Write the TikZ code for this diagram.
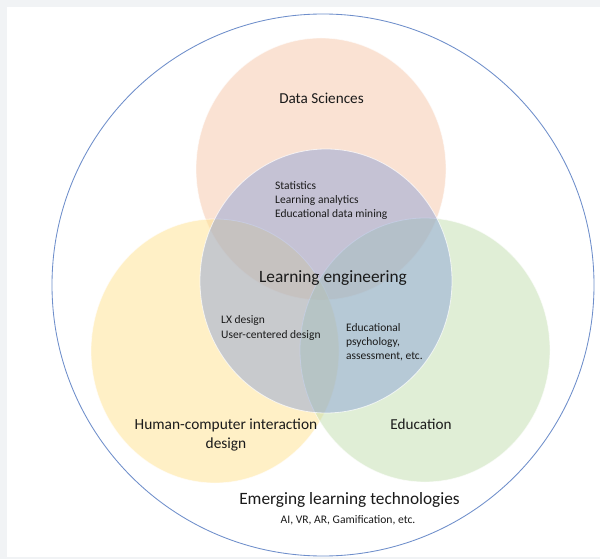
\documentclass[tikz,border=0pt]{standalone}
\usepackage{fontspec}
\setmainfont{Carlito}
\definecolor{bggray}{HTML}{F1F3F5}
\definecolor{ringblue}{HTML}{6E8ECB}
\definecolor{dsorange}{HTML}{F7C6A8}
\definecolor{hciyellow}{HTML}{FFE28F}
\definecolor{edugreen}{HTML}{C2DEAE}
\definecolor{lebue}{HTML}{7D96D7}
\definecolor{txt}{HTML}{1A1A1A}
\tikzset{
  setc/.style={fill opacity=0.5, draw=white, draw opacity=0.6, line width=0.8pt},
  lbl/.style={text=txt, inner sep=0pt, font=\fontsize{#1}{#1}\selectfont},
  lbl/.default=15,
  small/.style={text=txt, inner sep=0pt, align=left, font=\fontsize{11.5}{14.2}\selectfont}
}
\begin{document}
\begin{tikzpicture}[x=1pt,y=-1pt]
\useasboundingbox (0,0) rectangle (600,559);
\fill[bggray] (0,0) rectangle (600,559);
\fill[white] (7,7) rectangle (600,557);
% outer ring
\draw[ringblue, line width=0.85pt] (323,285) circle [radius=271];
% sets
\fill[dsorange, setc] (321,169) ellipse [x radius=125, y radius=131];
\fill[hciyellow, setc] (215,351) ellipse [x radius=124, y radius=132];
\fill[edugreen, setc] (425,350) ellipse [x radius=125, y radius=132];
\fill[lebue, fill opacity=0.42, draw=white, draw opacity=0.7, line width=0.8pt] (326,281) ellipse [x radius=126, y radius=132];
% labels
\node[lbl=15.2] (ds) at (321.5,98) {Data Sciences};
\node[small, anchor=west] (dsl) at (275,200.5) {Statistics\\Learning analytics\\Educational data mining};
\node[lbl=17.3] (le) at (333,278) {Learning engineering};
\node[small, anchor=west] (hcil) at (221,328) {LX design\\User-centered design};
\node[small, anchor=west] (edul) at (346,342) {Educational\\psychology,\\assessment, etc.};
\node[lbl=15.4, align=center, font=\fontsize{15.4}{19.5}\selectfont] (hci) at (226,435) {Human-computer interaction\\design};
\node[lbl=15.2] (edu) at (421,424) {Education};
\node[lbl=17.3] (elt) at (349.5,500) {Emerging learning technologies};
\node[lbl=11.6] (eltl) at (348,520.5) {AI, VR, AR, Gamification, etc.};
\end{tikzpicture}
\end{document}
